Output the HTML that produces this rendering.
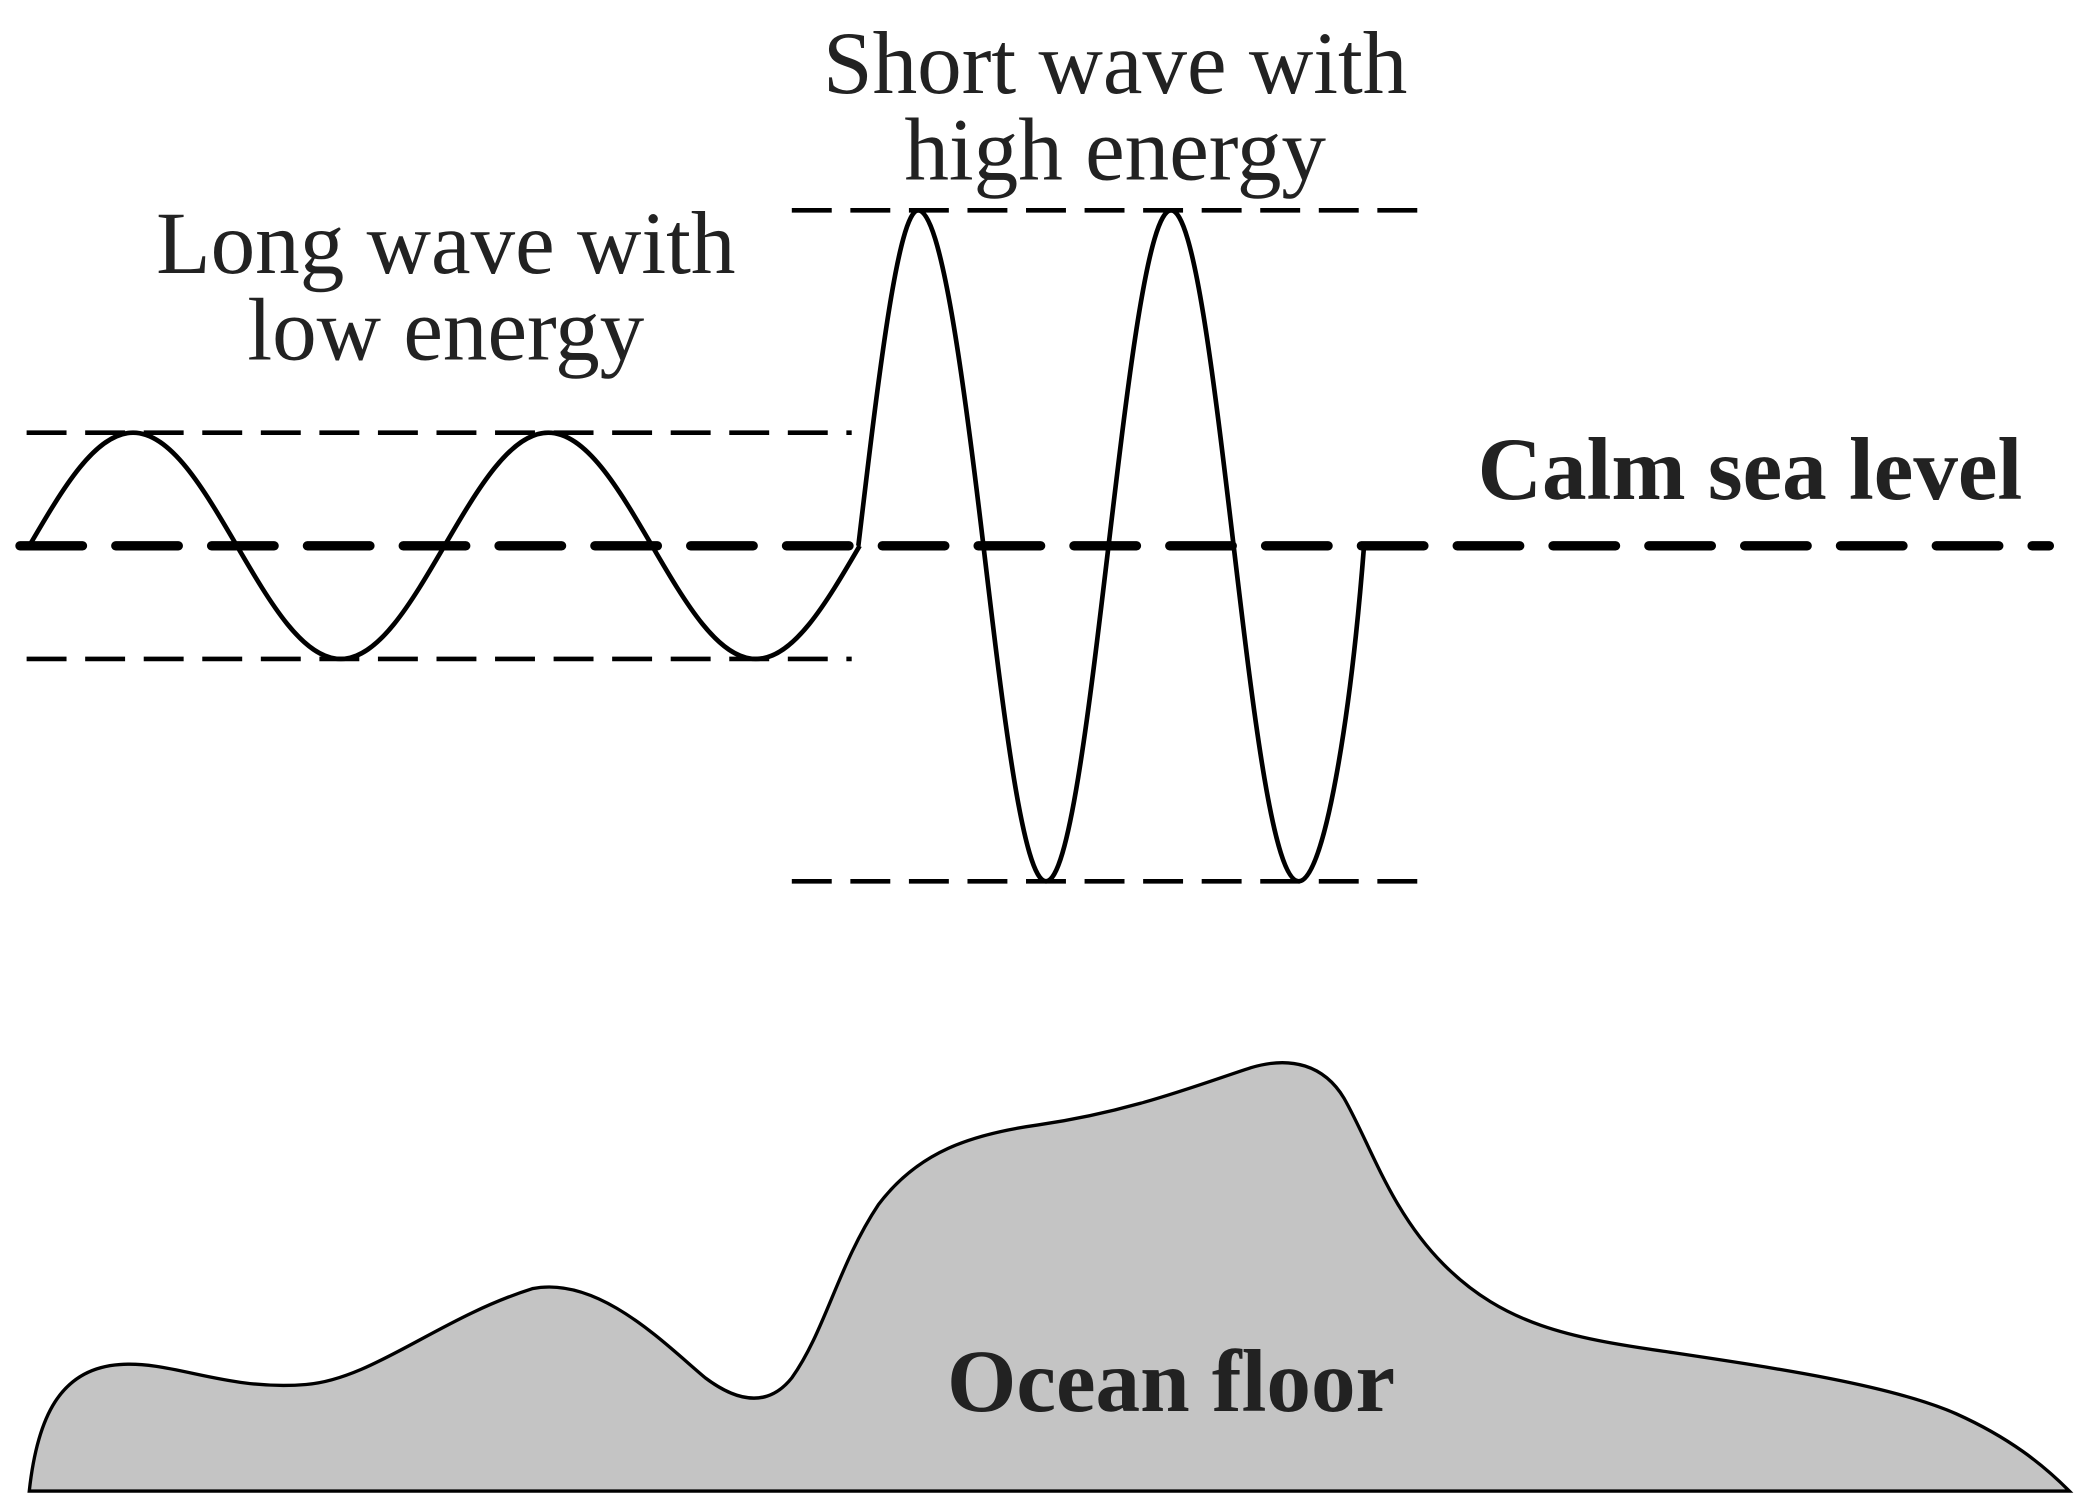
<!DOCTYPE html>
<html><head><meta charset="utf-8"><style>html,body{margin:0;padding:0;background:#fff}svg{display:block}</style></head>
<body>
<svg width="2076" height="1507" viewBox="0 0 1560 1132" preserveAspectRatio="none" xmlns="http://www.w3.org/2000/svg">
<rect width="1560" height="1132" fill="#fff"/>
<path d="M22,1120 C28,1065 45,1028 90,1025 C130,1022 170,1045 230,1040 C280,1036 330,990 400,968 C450,958 500,1010 530,1035 C550,1050 575,1060 595,1035 C620,1000 630,950 660,905 C690,865 730,852 780,845 C850,835 900,815 940,802 C970,793 995,800 1010,825 C1030,860 1045,910 1085,950 C1130,995 1180,1005 1250,1015 C1330,1027 1420,1040 1470,1062 C1510,1080 1535,1100 1555,1120 Z" fill="#c4c4c4" stroke="#000" stroke-width="2.5"/>
<g stroke="#000" stroke-width="3.5" stroke-dasharray="30,14" fill="none">
<line x1="20" y1="325" x2="640" y2="325"/>
<line x1="20" y1="495" x2="640" y2="495"/>
<line x1="595" y1="158" x2="1075" y2="158"/>
<line x1="595" y1="662" x2="1075" y2="662"/>
</g>
<line x1="15" y1="410" x2="1540" y2="410" stroke="#000" stroke-width="7" stroke-dasharray="47,25" stroke-linecap="round"/>
<path fill="none" stroke="#000" stroke-width="3.5" d="M22,410 C47.4,366.5 71.8,325 100,325 C128.2,325 152.6,366.5 178,410 C203.4,453.5 227.8,495 256,495 C284.2,495 308.6,453.5 334,410 C359.4,366.5 383.8,325 412,325 C440.2,325 464.6,366.5 490,410 C515.4,453.5 539.8,495 568,495 C596.2,495 620.6,453.5 646,410"/>
<path fill="none" stroke="#000" stroke-width="3.5" d="M645,410 C660.3,281 675,158 690,158 C707,158 723.7,281 739,410 C754.3,539 769,662 786,662 C803,662 817.7,539 833,410 C848.3,281 863,158 880,158 C897,158 911.7,281 927,410 C942.3,539 957,662 976,662 C995,662 1015,539 1025,410"/>
<g font-family="Liberation Serif, serif" font-size="67" text-anchor="middle" fill="#222">
<text x="838" y="70">Short wave with</text>
<text x="838" y="135">high energy</text>
<text x="335" y="205">Long wave with</text>
<text x="335" y="270">low energy</text>
</g>
<g font-family="Liberation Serif, serif" font-size="67" font-weight="bold" fill="#222">
<text x="1315" y="375" text-anchor="middle">Calm sea level</text>
<text x="880" y="1060" text-anchor="middle">Ocean floor</text>
</g>
</svg>
</body></html>
